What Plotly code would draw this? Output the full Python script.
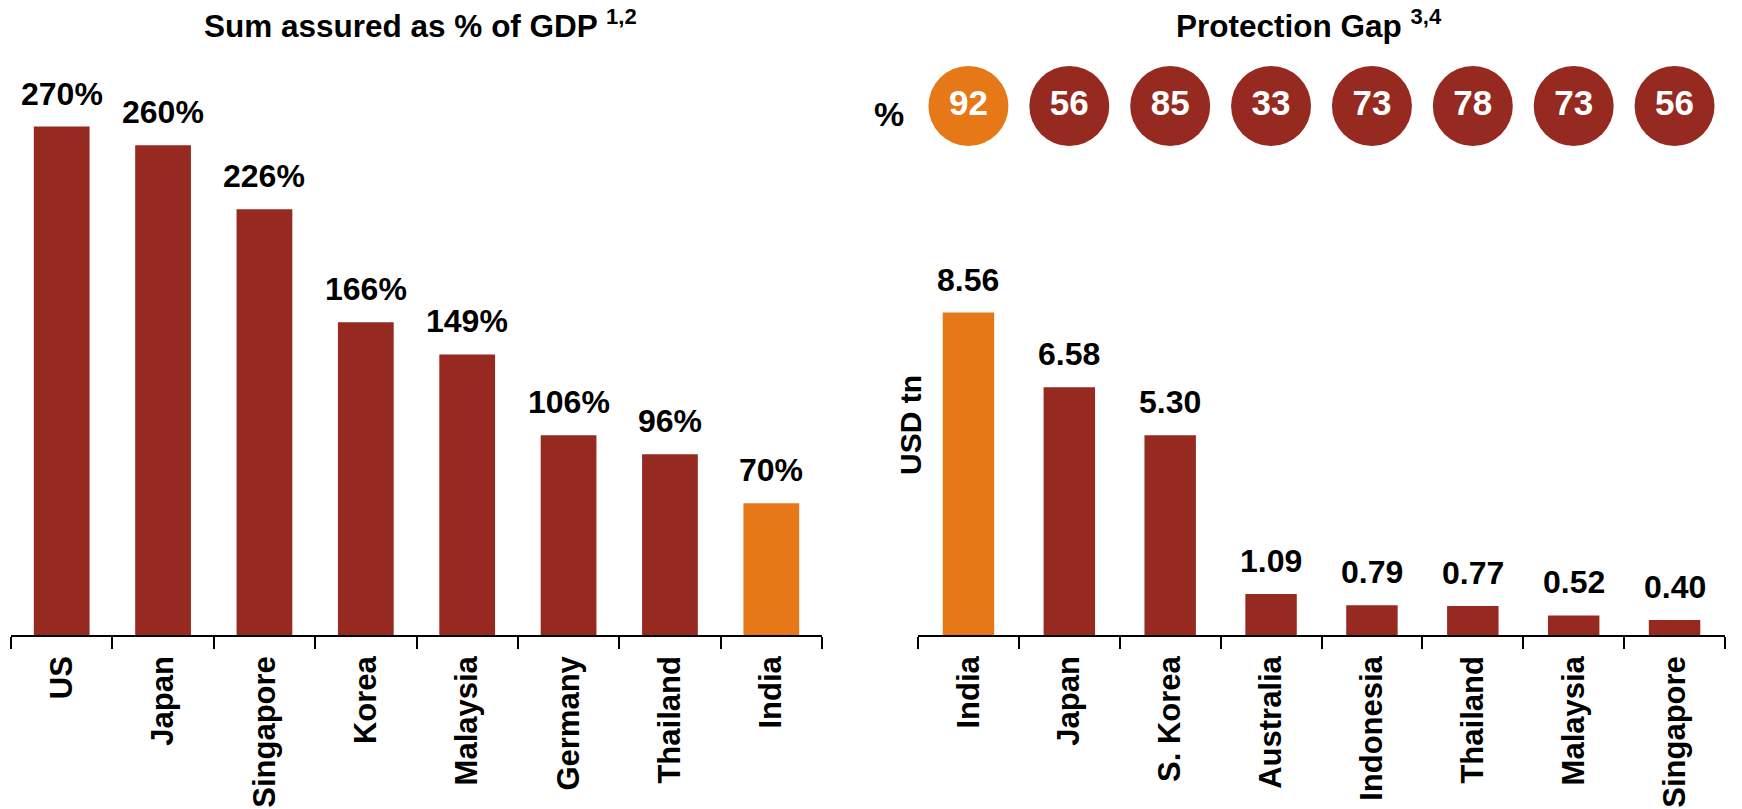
import plotly.graph_objects as go

# Left panel: sum assured as % of GDP
sa_countries = ["US", "Japan", "Singapore", "Korea", "Malaysia", "Germany", "Thailand", "India"]
sa_values = [270, 260, 226, 166, 149, 106, 96, 70]

# Right panel: protection gap (USD tn) and protection gap share (%)
pg_countries = ["India", "Japan", "S. Korea", "Australia", "Indonesia", "Thailand", "Malaysia", "Singapore"]
pg_values = [8.56, 6.58, 5.30, 1.09, 0.79, 0.77, 0.52, 0.40]
pg_pct = [92, 56, 85, 33, 73, 78, 73, 56]

RED = "#962A21"
ORANGE = "#E67817"
FONT = "Liberation Sans"
W, H = 1742, 809

def colors(cats):
    return [ORANGE if c == "India" else RED for c in cats]

def bold(size, color="black"):
    return dict(family=FONT, size=size, color=color, weight="bold")

fig = go.Figure()

fig.add_trace(go.Bar(
    x=sa_countries, y=sa_values, marker_color=colors(sa_countries),
    marker_line_width=0, width=0.55, xaxis="x", yaxis="y", hoverinfo="x+y",
))
fig.add_trace(go.Bar(
    x=pg_countries, y=pg_values, marker_color=colors(pg_countries),
    marker_line_width=0, width=0.51, xaxis="x2", yaxis="y2", hoverinfo="x+y",
))
# Row of circles with the protection gap share
fig.add_trace(go.Scatter(
    x=pg_countries, y=[0] * len(pg_countries), mode="markers+text",
    marker=dict(size=80, color=colors(pg_countries), line_width=0),
    text=[str(v) for v in pg_pct], textposition="middle center",
    textfont=bold(35, "white"),
    xaxis="x2", yaxis="y3", hoverinfo="skip",
))

annotations = []
for c, v in zip(sa_countries, sa_values):
    annotations.append(dict(
        x=c, y=v, xref="x", yref="y", text=f"{v}%", showarrow=False,
        xanchor="center", yanchor="bottom", yshift=13, font=bold(32),
    ))
for c, v in zip(pg_countries, pg_values):
    annotations.append(dict(
        x=c, y=v, xref="x2", yref="y2", text=f"{v:.2f}", showarrow=False,
        xanchor="center", yanchor="bottom", yshift=13, font=bold(32),
    ))

annotations += [
    dict(x=420 / W, y=1 - 24 / H, xref="paper", yref="paper", showarrow=False,
         xanchor="center", yanchor="middle",
         text="Sum assured as % of GDP <sup>1,2</sup>", font=bold(31.5)),
    dict(x=1309 / W, y=1 - 24 / H, xref="paper", yref="paper", showarrow=False,
         xanchor="center", yanchor="middle",
         text="Protection Gap <sup>3,4</sup>", font=bold(31.5)),
    dict(x=889 / W, y=1 - 114 / H, xref="paper", yref="paper", showarrow=False,
         xanchor="center", yanchor="middle", text="%", font=bold(34)),
    dict(x=910 / W, y=1 - 425 / H, xref="paper", yref="paper", showarrow=False,
         xanchor="center", yanchor="middle", text="USD tn", textangle=-90,
         font=bold(30)),
]

ydom = [1 - 635 / H, 1 - 70 / H]
xaxis_common = dict(
    showline=True, linecolor="black", linewidth=1.5,
    ticks="outside", ticklen=12, tickwidth=1.5, tickcolor="black",
    tickson="boundaries", tickangle=-90, ticklabelstandoff=7,
    tickfont=bold(31),
    showgrid=False, zeroline=False, automargin=False, fixedrange=True,
    range=[-0.5, 7.5],
)
yaxis_common = dict(
    showline=False, showticklabels=False, ticks="", showgrid=False,
    zeroline=False, automargin=False, fixedrange=True, domain=ydom,
)

fig.update_layout(
    width=W, height=H,
    margin=dict(l=0, r=0, t=0, b=0),
    paper_bgcolor="white", plot_bgcolor="rgba(0,0,0,0)",
    showlegend=False,
    xaxis=dict(domain=[11 / W, 822 / W], anchor="y", **xaxis_common),
    yaxis=dict(anchor="x", range=[0, 300], **yaxis_common),
    xaxis2=dict(domain=[918 / W, 1725 / W], anchor="y2", **xaxis_common),
    yaxis2=dict(anchor="x2", range=[0, 15], **yaxis_common),
    yaxis3=dict(anchor="x2", domain=[1 - 158 / H, 1 - 54 / H], range=[-1, 1],
                visible=False, fixedrange=True),
    annotations=annotations,
)

fig.write_html("out.html", config={"displayModeBar": False})
